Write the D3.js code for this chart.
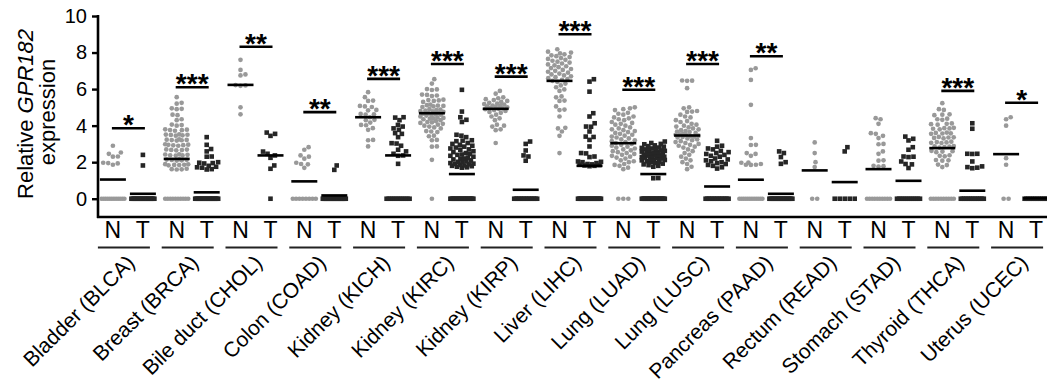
<!DOCTYPE html>
<html><head><meta charset="utf-8">
<script src="https://cdn.jsdelivr.net/npm/d3@7"></script>
<style>
body{margin:0;background:#fff}
text{font-family:"Liberation Sans",Arial,Helvetica,sans-serif}
</style>
</head><body>
<svg id="chart" width="1047" height="384"></svg>
<script>
// ---------------- data ----------------
const categories = ["Bladder (BLCA)","Breast (BRCA)","Bile duct (CHOL)","Colon (COAD)","Kidney (KICH)",
  "Kidney (KIRC)","Kidney (KIRP)","Liver (LIHC)","Lung (LUAD)","Lung (LUSC)","Pancreas (PAAD)",
  "Rectum (READ)","Stomach (STAD)","Thyroid (THCA)","Uterus (UCEC)"];
const groups = ["N","T"];
const yTicks = [0,2,4,6,8,10];

const normalValues = [
  [2.9,2.53,2.46,2.31,2.3,1.97,1.95,1.93,1.86,0,0,0,0,0,0,0,0,0,0,0,0],
  [5.56,5.25,5.2,4.95,4.92,4.9,4.6,4.57,4.35,4.3,4.06,4.03,4.0,3.8,3.78,3.76,3.75,3.72,3.52,3.5,3.49,3.47,3.45,3.51,
   3.25,3.23,3.22,3.2,3.18,3.21,2.98,2.96,2.95,2.93,2.92,2.9,2.7,2.69,2.67,2.66,2.65,2.43,2.42,2.4,2.38,2.37,2.36,
   2.16,2.14,2.13,2.12,2.1,2.09,1.89,1.88,1.86,1.85,1.84,1.83,1.64,1.62,1.61,1.6,0,0,0,0,0,0,0,0,0,0],
  [7.6,7.05,6.8,6.75,6.22,6.2,6.18,5.0,4.62],
  [2.82,2.68,2.37,2.3,2.19,1.97,1.9,1.88,1.69,0,0,0,0,0,0,0,0],
  [5.83,5.56,5.37,5.35,5.08,5.05,5.02,4.86,4.84,4.64,4.62,4.6,4.46,4.32,4.3,4.17,4.04,4.02,3.86,3.77,3.22,3.2,2.86],
  [6.54,6.3,6.0,5.98,5.95,5.7,5.68,5.65,5.62,5.42,5.4,5.38,5.35,5.3,5.15,5.12,5.1,5.08,5.05,5.02,4.9,4.88,4.85,4.82,
   4.8,4.78,4.75,4.7,4.68,4.65,4.62,4.6,4.58,4.55,4.5,4.45,4.42,4.4,4.38,4.35,4.3,4.25,4.2,4.18,4.15,4.1,4.05,4.0,
   3.95,3.9,3.85,3.7,3.68,3.65,3.45,3.42,3.22,3.2,2.86,2.85,2.13,0],
  [5.9,5.75,5.55,5.5,5.45,5.4,5.35,5.3,5.25,5.2,5.18,5.15,5.1,5.08,5.05,5.02,5.0,4.98,4.95,4.92,4.9,4.85,4.8,4.75,
   4.7,4.6,4.5,4.4,4.3,4.05,4.0,3.95,3.8,3.75,3.05],
  [8.18,8.05,8.0,7.95,7.9,7.85,7.8,7.75,7.7,7.65,7.6,7.55,7.5,7.45,7.4,7.35,7.3,7.25,7.2,7.15,7.1,7.05,7.0,6.95,6.9,
   6.85,6.8,6.75,6.7,6.65,6.6,6.55,6.5,6.45,6.4,6.3,6.2,6.1,5.98,5.9,5.6,5.55,5.37,5.35,5.05,4.88,4.85,4.5,3.88,
   3.85,3.68,3.44,2.5],
  [5.0,4.95,4.9,4.85,4.7,4.65,4.6,4.5,4.45,4.4,4.35,4.3,4.2,4.15,4.1,4.05,4.0,3.9,3.85,3.8,3.75,3.7,3.65,3.6,3.55,
   3.5,3.45,3.4,3.35,3.3,3.25,3.2,3.15,3.1,3.05,3.0,2.95,2.9,2.85,2.8,2.75,2.7,2.65,2.6,2.55,2.5,2.45,2.4,2.35,2.3,
   2.25,2.2,2.1,2.05,2.0,1.9,1.85,1.8,1.7,1.62,0,0,0],
  [6.46,6.45,6.47,6.05,5.0,4.95,4.8,4.77,4.75,4.6,4.5,4.45,4.3,4.25,4.2,4.1,4.05,4.0,3.95,3.9,3.85,3.8,3.75,3.7,
   3.68,3.65,3.6,3.55,3.52,3.5,3.48,3.45,3.42,3.4,3.38,3.35,3.3,3.25,3.2,3.15,3.1,3.05,3.0,2.95,2.9,2.85,2.8,2.7,
   2.6,2.5,2.4,2.3,2.2,2.1,2.0,1.9,1.75,1.62],
  [7.14,7.05,6.5,5.14,3.32,2.95,2.94,2.5,2.45,2.35,1.98,1.97,1.9,1.86,1.86,1.85,0,0,0,0,0,0,0,0,0,0,0,0],
  [3.08,2.5,2.0,1.73,0,0],
  [4.41,4.35,4.1,3.59,3.55,3.44,3.32,3.0,2.98,2.59,2.46,2.1,2.08,1.8,1.78,1.76,0,0,0,0,0,0,0,0,0,0],
  [5.23,4.9,4.86,4.62,4.6,4.57,4.38,4.35,4.32,4.12,4.1,4.08,4.05,3.88,3.86,3.85,3.83,3.8,3.62,3.6,3.58,3.57,3.55,
   3.38,3.36,3.35,3.33,3.3,3.12,3.1,3.08,3.06,3.05,2.88,2.86,2.85,2.83,2.8,2.62,2.6,2.58,2.55,2.38,2.35,2.32,2.12,
   2.1,2.08,1.87,1.84,1.73,0,0,0,0,0,0,0,0,0,0],
  [4.46,4.35,4.0,2.22,1.86,0,0]
];

const tumorValues = [
  [2.4,1.82,0,0,0,0,0,0,0,0,0,0,0,0,0,0,0,0,0,0,0,0],
  [3.37,2.95,2.72,2.59,2.31,2.3,2.0,1.97,1.95,1.93,1.8,1.75,1.72,1.7,1.6,1.62,0,0,0,0,0,0,0,0,0,0,0,0,0,0,0,0,0,0,0,0],
  [3.62,3.55,3.44,2.58,2.46,2.37,2.24,1.82,1.64,0],
  [1.82,1.58,0,0,0,0,0,0,0,0,0,0,0,0,0,0,0,0,0,0,0,0,0,0,0,0,0],
  [4.46,4.44,4.3,4.04,3.95,3.85,3.77,3.59,3.55,3.37,3.04,3.02,2.9,2.68,2.59,2.46,2.37,2.35,1.91,0,0,0,0,0,0,0,0,0,0,0,0],
  [5.96,4.77,4.46,4.32,4.2,3.5,3.45,3.37,3.2,3.18,3.15,3.05,3.0,2.95,2.9,2.85,2.8,2.75,2.7,2.68,2.6,2.55,2.5,2.45,
   2.42,2.4,2.35,2.3,2.25,2.2,2.18,2.15,2.1,2.05,2.02,2.0,1.95,1.92,1.9,1.88,1.85,1.82,1.8,1.78,1.75,1.72,1.7,
   0,0,0,0,0,0,0,0,0,0,0,0,0,0,0,0,0,0,0,0],
  [3.13,3.0,2.64,2.37,2.31,2.08,0,0,0,0,0,0,0,0,0,0,0,0,0,0,0],
  [6.54,6.41,5.86,4.68,4.5,4.13,3.95,3.94,3.68,3.4,3.38,3.22,2.86,2.5,2.48,2.31,2.28,2.04,2.02,2.0,1.95,1.9,1.88,
   1.86,1.84,1.82,1.8,1.78,0,0,0,0,0,0,0,0,0,0,0,0,0,0,0,0,0,0,0,0],
  [3.13,3.05,3.0,2.98,2.92,2.88,2.85,2.8,2.78,2.75,2.72,2.7,2.66,2.64,2.62,2.58,2.55,2.52,2.5,2.48,2.45,2.42,2.4,
   2.38,2.36,2.33,2.3,2.28,2.25,2.22,2.2,2.18,2.15,2.12,2.1,2.05,2.02,2.0,1.96,1.92,1.88,1.84,1.8,1.75,1.13,1.12,
   0,0,0,0,0,0,0,0,0,0,0,0,0,0,0,0,0,0,0,0],
  [3.17,2.9,2.85,2.75,2.7,2.62,2.55,2.5,2.45,2.4,2.35,2.3,2.2,2.15,2.1,2.05,2.0,1.95,1.9,1.85,1.8,1.72,1.65,
   0,0,0,0,0,0,0,0,0,0,0,0,0,0,0],
  [2.59,2.5,2.28,2.0,1.91,0,0,0,0,0,0,0,0,0,0,0,0,0,0,0,0,0,0,0,0],
  [2.82,2.59,0,0,0,0,0],
  [3.4,3.28,3.19,2.82,2.68,2.31,2.3,2.28,2.04,1.9,1.88,1.68,0,0,0,0,0,0,0,0,0,0,0,0],
  [4.13,3.83,2.46,2.46,2.45,2.04,1.77,1.73,1.7,1.67,0,0,0,0,0,0,0,0,0,0,0,0,0,0],
  [0,0,0,0,0,0,0,0,0,0,0,0,0,0]
];

const normalMedians = [1.05,2.18,6.23,0.95,4.46,4.68,4.92,6.45,3.04,3.46,1.04,1.55,1.62,2.77,2.44];
const tumorMedians  = [0.27,0.35,2.37,0.18,2.37,1.35,0.49,1.80,1.35,0.67,0.27,0.91,0.98,0.44,0.02];
const sigHeights    = [3.86,6.10,8.32,4.74,6.56,7.37,6.68,9.00,5.96,7.37,7.80,null,null,5.90,5.25];
const sigLabels     = ["*","***","**","**","***","***","***","***","***","***","**","","","***","*"];

// ---------------- layout ----------------
const svg = d3.select("#chart");
const y = d3.scaleLinear().domain([-1,10]).range([217,16]);
const x = d3.scaleBand().domain(categories).range([96,1053]).paddingInner(0).paddingOuter(0);
const bw = x.bandwidth();
const sub = d3.scalePoint().domain(groups).range([bw/2-15, bw/2+15]);

const DOT = 5.0, MAXH = 11.5;
function swarm(vals, cx){
  const zeros = vals.filter(v=>v===0);
  const others = vals.filter(v=>v!==0).map(v=>({v, y:y(v)})).sort((a,b)=>b.y-a.y);
  const placed = [];
  others.forEach(p=>{
    const near = placed.filter(q=>Math.abs(q.y-p.y)<DOT);
    const cands=[0];
    near.forEach(q=>{const dx=Math.sqrt(DOT*DOT-(q.y-p.y)**2); cands.push(q.off+dx,q.off-dx);});
    cands.sort((a,b)=>Math.abs(a)-Math.abs(b));
    let chosen=null;
    for(const c of cands){
      if(Math.abs(c)>MAXH+0.01) continue;
      if(near.every(q=>(c-q.off)**2+(q.y-p.y)**2>=DOT*DOT-0.01)){chosen=c;break;}
    }
    if(chosen===null){
      let best=0,bd=-1;
      for(let c=-MAXH;c<=MAXH;c+=0.5){
        const md=d3.min(near,q=>(c-q.off)**2+(q.y-p.y)**2);
        if(md>bd){bd=md;best=c;}
      }
      chosen=best;
    }
    p.off=chosen; placed.push(p);
  });
  const n=zeros.length;
  if(n){
    const span=Math.min((n-1)*DOT, 2*MAXH);
    zeros.forEach((v,i)=>placed.push({v, y:y(0), off: n===1?0:-span/2+span*i/(n-1)}));
  }
  return placed.map(p=>({x:cx+p.off, y:p.y}));
}

// axes
const yAxis = d3.axisLeft(y).tickValues(yTicks).tickSize(6).tickPadding(5).tickSizeOuter(0);
const ga = svg.append("g").attr("transform","translate(98,0)").call(yAxis);
ga.select(".domain").remove();
ga.append("line").attr("x1",0).attr("x2",0).attr("y1",y(10)-1).attr("y2",y(-1)+1)
  .attr("stroke","#000").attr("stroke-width",2.6);
ga.selectAll(".tick line").attr("stroke","#000").attr("stroke-width",2.4);
ga.selectAll(".tick text").attr("fill","#000").style("font-size","20px")
  .style("font-family","'Liberation Sans',Arial,sans-serif");
svg.append("line").attr("x1",97).attr("x2",1047).attr("y1",y(-1)).attr("y2",y(-1))
  .attr("stroke","#000").attr("stroke-width",2.6);

// y label
const yl = svg.append("text").attr("transform","translate(33,114) rotate(-90)")
  .attr("text-anchor","middle").style("font-size","22px");
yl.append("tspan").text("Relative ");
yl.append("tspan").style("font-style","italic").text("GPR182");
svg.append("text").attr("transform","translate(55,112) rotate(-90)")
  .attr("text-anchor","middle").style("font-size","22px").text("expression");

// points
categories.forEach((c,i)=>{
  const g = svg.append("g");
  const nx = x(c)+sub("N"), tx = x(c)+sub("T");
  g.selectAll("circle").data(swarm(normalValues[i], nx)).join("circle")
    .attr("cx",d=>d.x).attr("cy",d=>d.y).attr("r",2.35).attr("fill","#999999");
  g.selectAll("rect").data(swarm(tumorValues[i], tx)).join("rect")
    .attr("x",d=>d.x-2.3).attr("y",d=>d.y-2.3).attr("width",4.6).attr("height",4.6).attr("fill","#262626");
  // medians
  [[nx,normalMedians[i]],[tx,tumorMedians[i]]].forEach(([mx,mv])=>{
    g.append("line").attr("x1",mx-13).attr("x2",mx+13).attr("y1",y(mv)).attr("y2",y(mv))
      .attr("stroke","#000").attr("stroke-width",2.6);
  });
  // significance
  if(sigHeights[i]!==null){
    g.append("line").attr("x1",nx-1).attr("x2",tx+2).attr("y1",y(sigHeights[i])).attr("y2",y(sigHeights[i]))
      .attr("stroke","#000").attr("stroke-width",2.6);
    g.append("text").attr("x",(nx+tx)/2+0.5).attr("y",y(sigHeights[i])+6).attr("text-anchor","middle")
      .style("font-size","28px").style("font-weight","bold").text(sigLabels[i]);
  }
  // N / T labels
  groups.forEach(k=>{
    svg.append("text").attr("x",x(c)+sub(k)).attr("y",238).attr("text-anchor","middle")
      .style("font-size","23px").text(k);
  });
  // underline
  svg.append("line").attr("x1",x(c)+bw/2-30).attr("x2",x(c)+bw/2+22).attr("y1",247.5).attr("y2",247.5)
    .attr("stroke","#222").attr("stroke-width",2);
  // category label
  svg.append("text").attr("transform",`translate(${x(c)+bw/2+8},264) rotate(-45)`)
    .attr("text-anchor","end").style("font-size","21px").text(c);
});
</script>
</body></html>
